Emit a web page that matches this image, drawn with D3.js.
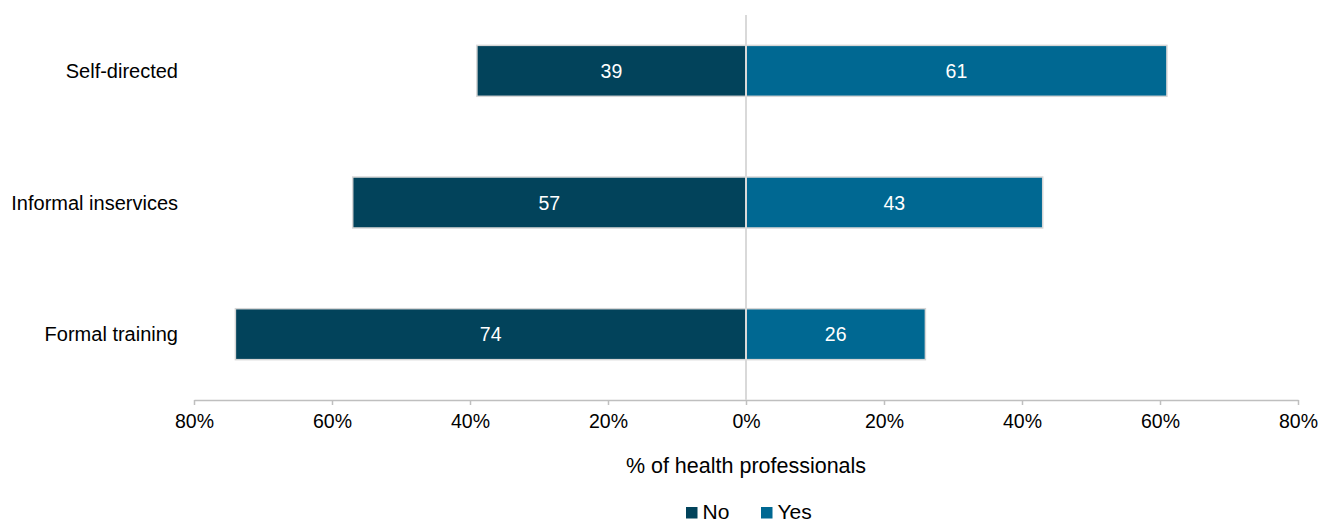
<!DOCTYPE html>
<html>
<head>
<meta charset="utf-8">
<script src="https://cdn.jsdelivr.net/npm/d3@7"></script>
<style>
  body { margin: 0; background: #fff; }
  svg { font-family: Arial, "Liberation Sans", sans-serif; }
</style>
</head>
<body>
<svg width="1331" height="521"></svg>
<script>
// data
const categories = ['Self-directed', 'Informal inservices', 'Formal training'];
const noValues = [39, 57, 74];
const yesValues = [61, 43, 26];
const tickValues = [-80, -60, -40, -20, 0, 20, 40, 60, 80];
const seriesNames = ['No', 'Yes'];

const colors = { No: '#02435b', Yes: '#006892' };

const svg = d3.select('svg');

const x = d3.scaleLinear().domain([-80, 80]).range([194, 1298]);
const y = d3.scaleBand()
  .domain(categories)
  .range([5, 400])
  .paddingInner(0.613)
  .paddingOuter(0.3065);

const rows = categories.map((c, i) => ({ cat: c, no: noValues[i], yes: yesValues[i] }));

// axis
const axis = svg.append('g')
  .attr('transform', 'translate(0,400)')
  .call(d3.axisBottom(x)
    .tickValues(tickValues)
    .tickSize(5)
    .tickSizeOuter(0)
    .tickPadding(9)
    .tickFormat(d => Math.abs(d) + '%'));
axis.select('.domain').attr('stroke', '#bfbfbf').attr('stroke-width', 1.5);
axis.selectAll('.tick line').attr('stroke', '#bfbfbf').attr('stroke-width', 1.5);
axis.selectAll('.tick text')
  .attr('font-size', 19.5)
  .attr('fill', '#000')
  .attr('font-family', 'Arial, "Liberation Sans", sans-serif');

// bars
const g = svg.append('g');
g.selectAll('rect.no')
  .data(rows)
  .enter()
  .append('rect')
  .attr('class', 'no')
  .attr('x', d => x(-d.no))
  .attr('y', d => y(d.cat))
  .attr('width', d => x(0) - x(-d.no))
  .attr('height', y.bandwidth())
  .attr('fill', colors.No)
  .attr('stroke', '#d6d6d6')
  .attr('stroke-width', 1.5);

g.selectAll('rect.yes')
  .data(rows)
  .enter()
  .append('rect')
  .attr('class', 'yes')
  .attr('x', x(0))
  .attr('y', d => y(d.cat))
  .attr('width', d => x(d.yes) - x(0))
  .attr('height', y.bandwidth())
  .attr('fill', colors.Yes)
  .attr('stroke', '#d6d6d6')
  .attr('stroke-width', 1.5);

// centre line
svg.append('line')
  .attr('x1', x(0)).attr('x2', x(0))
  .attr('y1', 15).attr('y2', 400)
  .attr('stroke', '#d9d9d9')
  .attr('stroke-width', 2);

// bar labels
g.selectAll('text.nol')
  .data(rows)
  .enter()
  .append('text')
  .attr('x', d => (x(-d.no) + x(0)) / 2)
  .attr('y', d => y(d.cat) + y.bandwidth() / 2 + 7)
  .attr('text-anchor', 'middle')
  .attr('font-size', 19.5)
  .attr('fill', '#fff')
  .text(d => d.no);

g.selectAll('text.yesl')
  .data(rows)
  .enter()
  .append('text')
  .attr('x', d => (x(d.yes) + x(0)) / 2)
  .attr('y', d => y(d.cat) + y.bandwidth() / 2 + 7)
  .attr('text-anchor', 'middle')
  .attr('font-size', 19.5)
  .attr('fill', '#fff')
  .text(d => d.yes);

// category labels
svg.selectAll('text.cat')
  .data(categories)
  .enter()
  .append('text')
  .attr('x', 178)
  .attr('y', d => y(d) + y.bandwidth() / 2 + 7)
  .attr('text-anchor', 'end')
  .attr('font-size', 20)
  .attr('fill', '#000')
  .text(d => d);

// axis title
svg.append('text')
  .attr('x', x(0))
  .attr('y', 473)
  .attr('text-anchor', 'middle')
  .attr('font-size', 21.5)
  .attr('fill', '#000')
  .text('% of health professionals');

// legend
const legendX = [686, 761];
const legend = svg.selectAll('g.legend')
  .data(seriesNames)
  .enter()
  .append('g')
  .attr('transform', (d, i) => 'translate(' + legendX[i] + ',507)');
legend.append('rect')
  .attr('width', 11.5)
  .attr('height', 11.5)
  .attr('fill', d => colors[d]);
legend.append('text')
  .attr('x', 16.5)
  .attr('y', 11.5)
  .attr('font-size', 21)
  .attr('fill', '#000')
  .text(d => d);
</script>
</body>
</html>
